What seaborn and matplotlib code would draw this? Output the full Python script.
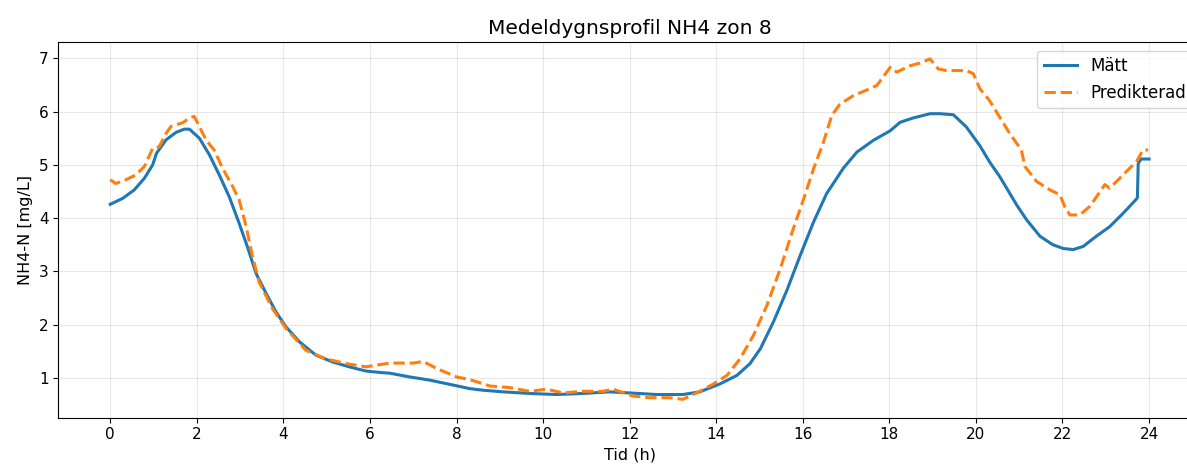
import matplotlib
matplotlib.use("Agg")
import matplotlib.pyplot as plt
import seaborn as sns
import numpy as np

title = "Medeldygnsprofil NH4 zon 8"
xlabel = "Tid (h)"
ylabel = "NH4-N [mg/L]"
series_names = ["Mätt", "Predikterad"]
xticks = list(range(0, 25, 2))

# Measured (Mätt)
h_meas = [0.0, 0.285, 0.555, 0.79, 0.98, 1.07, 1.29, 1.52, 1.71, 1.83, 2.06, 2.29, 2.52, 2.75,
          2.98, 3.17, 3.37, 3.60, 3.83, 4.06, 4.37, 4.75, 5.14, 5.52, 5.91, 6.29, 6.46, 6.92,
          7.38, 7.85, 8.31, 8.62, 9.08, 9.69, 10.31, 10.92, 11.54, 12.0, 12.62, 13.23, 13.62,
          14.09, 14.48, 14.78, 15.02, 15.32, 15.63, 15.94, 16.25, 16.55, 16.94, 17.25, 17.63,
          18.02, 18.25, 18.55, 18.94, 19.17, 19.48, 19.78, 20.09, 20.32, 20.55, 20.94, 21.17,
          21.48, 21.78, 22.02, 22.25, 22.48, 22.78, 23.09, 23.40, 23.71, 23.73, 23.75, 23.82, 24.0]
y_meas = [4.26, 4.37, 4.53, 4.75, 5.0, 5.22, 5.47, 5.61, 5.67, 5.67, 5.50, 5.19, 4.81, 4.40,
          3.90, 3.46, 2.96, 2.59, 2.24, 1.96, 1.68, 1.43, 1.30, 1.21, 1.13, 1.10, 1.09, 1.02,
          0.96, 0.88, 0.80, 0.77, 0.74, 0.71, 0.69, 0.71, 0.74, 0.72, 0.69, 0.69, 0.74,
          0.89, 1.05, 1.27, 1.55, 2.05, 2.64, 3.30, 3.93, 4.46, 4.94, 5.24, 5.46,
          5.64, 5.80, 5.88, 5.96, 5.96, 5.94, 5.71, 5.36, 5.05, 4.78, 4.25, 3.97,
          3.66, 3.50, 3.43, 3.41, 3.47, 3.66, 3.84, 4.09, 4.36, 4.38, 5.03, 5.11, 5.11]

# Predicted (Predikterad)
h_pred = [0.0, 0.13, 0.36, 0.59, 0.79, 0.98, 1.13, 1.29, 1.40, 1.67, 1.86, 1.94, 2.06, 2.21,
          2.40, 2.60, 2.83, 2.98, 3.14, 3.29, 3.44, 3.75, 4.06, 4.52, 4.98, 5.45, 5.91, 6.14,
          6.46, 7.0, 7.23, 7.54, 8.0, 8.31, 8.77, 9.23, 9.69, 10.08, 10.46, 10.92, 11.38,
          11.62, 12.08, 12.46, 12.92, 13.23, 13.62, 13.94, 14.25, 14.55, 14.86, 15.17, 15.48,
          15.78, 16.02, 16.25, 16.48, 16.67, 16.86, 17.17, 17.55, 17.71, 18.02, 18.17, 18.48,
          18.71, 18.94, 19.13, 19.32, 19.78, 19.94, 20.09, 20.32, 20.78, 21.05, 21.13, 21.40,
          21.71, 21.94, 22.05, 22.17, 22.40, 22.63, 22.82, 22.98, 23.09, 23.25, 23.48, 23.71,
          23.86, 23.98]
y_pred = [4.72, 4.65, 4.72, 4.81, 4.97, 5.31, 5.34, 5.59, 5.72, 5.79, 5.89, 5.91, 5.72, 5.47,
          5.28, 4.93, 4.59, 4.34, 3.84, 3.27, 2.80, 2.30, 1.93, 1.52, 1.36, 1.27, 1.21, 1.24,
          1.28, 1.28, 1.31, 1.18, 1.02, 0.97, 0.85, 0.82, 0.75, 0.79, 0.72, 0.75, 0.75,
          0.79, 0.66, 0.63, 0.63, 0.60, 0.75, 0.89, 1.05, 1.36, 1.80, 2.36, 3.05,
          3.80, 4.36, 4.93, 5.43, 5.93, 6.14, 6.30, 6.43, 6.49, 6.83, 6.74, 6.86,
          6.91, 6.99, 6.80, 6.77, 6.77, 6.71, 6.43, 6.20, 5.59, 5.28, 4.97, 4.69,
          4.53, 4.44, 4.22, 4.06, 4.06, 4.22, 4.44, 4.63, 4.56, 4.69, 4.88, 5.06,
          5.28, 5.28]

fig = plt.figure(figsize=(11.87, 4.68), dpi=100)
ax = fig.add_axes([58.3 / 1187, (468 - 417.7) / 468, (1201 - 58.3) / 1187, (417.7 - 42.3) / 468])

sns.lineplot(x=h_meas, y=y_meas, ax=ax, color="#1f77b4", linewidth=2.2,
             label=series_names[0], estimator=None, sort=False)
sns.lineplot(x=h_pred, y=y_pred, ax=ax, color="#ff7f0e", linewidth=2.2, linestyle="--",
             label=series_names[1], estimator=None, sort=False)

ax.set_xlim(-1.2, 25.2)
ax.set_ylim(0.255, 7.30)
ax.set_xticks(xticks)
ax.set_yticks([1, 2, 3, 4, 5, 6, 7])
ax.grid(True, alpha=0.3)
ax.set_title(title, fontsize=14.5)
ax.set_xlabel(xlabel, fontsize=11.5)
ax.set_ylabel(ylabel, fontsize=11.5)
ax.tick_params(labelsize=11)
ax.legend(loc="upper right", fontsize=12)

fig.savefig("out.png", dpi=100)
